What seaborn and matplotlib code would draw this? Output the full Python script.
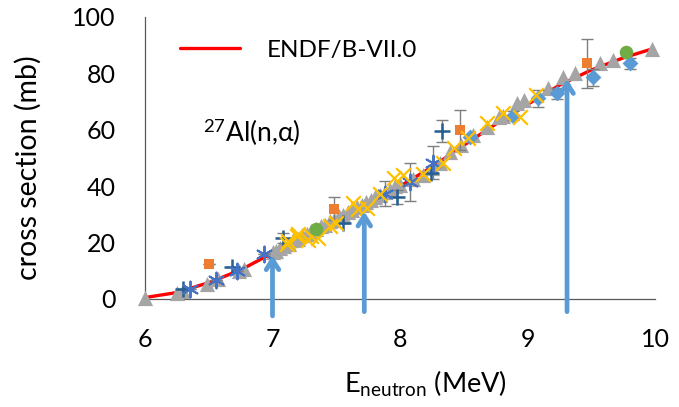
import matplotlib
matplotlib.use("Agg")
import matplotlib.pyplot as plt
import seaborn as sns
import pandas as pd

# ---------------- data ----------------
endf_E = [6.0, 6.25, 6.5, 6.75, 7.0, 7.25, 7.5, 7.75, 8.0, 8.25, 8.5, 8.75, 9.0, 9.25, 9.5, 9.75, 10.0]
endf_s = [0.5, 2.3, 5.8, 10.3, 16.3, 22.6, 28.4, 34.2, 40.0, 46.8, 54.5, 62.0, 69.0, 75.8, 81.2, 85.5, 89.0]

tri_E = [6.0, 6.25, 6.3, 6.49, 6.57, 6.74, 6.78,
         7.0, 7.03, 7.06, 7.09, 7.13, 7.16, 7.2, 7.23, 7.27, 7.3, 7.34, 7.38, 7.41, 7.45,
         7.48, 7.52, 7.55, 7.59, 7.62, 7.66, 7.7, 7.73, 7.77, 7.8, 7.84, 7.88, 7.92, 7.96,
         8.0, 8.1, 8.18, 8.25, 8.31, 8.39, 8.48, 8.57, 8.68, 8.78, 8.81, 8.92, 8.97,
         9.16, 9.28, 9.37, 9.57, 9.67, 9.98]
tri_s = [0.4, 2.1, 3.0, 5.3, 7.1, 10.0, 10.7,
         16.5, 17.0, 18.2, 18.8, 19.5, 21.0, 21.3, 22.6, 23.0, 24.2, 24.8, 26.0, 26.4, 27.6,
         28.0, 29.4, 29.8, 31.0, 31.5, 32.8, 33.2, 34.5, 35.0, 36.2, 36.8, 38.0, 38.5, 40.0,
         40.5, 42.5, 43.8, 46.5, 48.4, 52.0, 54.5, 58.0, 61.0, 64.4, 65.0, 69.4, 70.5,
         75.0, 78.6, 80.0, 83.6, 84.7, 88.6]

dia_E = [8.55, 8.89, 9.08, 9.23, 9.51, 9.80]
dia_s = [57.3, 65.0, 71.2, 73.0, 78.6, 83.6]
dia_err = [0.0, 1.5, 3.0, 2.0, 3.0, 2.0]

sq_E = [6.50, 7.48, 8.47, 9.47]
sq_s = [12.5, 32.0, 60.0, 83.6]
sq_err = [0.0, 4.0, 7.0, 8.7]

circ_E = [7.34, 9.77]
circ_s = [24.9, 87.7]

plus_E = [6.30, 6.68, 7.08, 7.55, 7.98, 8.24, 8.33]
plus_s = [3.6, 11.5, 21.6, 27.0, 36.2, 44.8, 59.5]
plus_err = [0.0, 0.0, 1.8, 0.0, 2.5, 0.0, 4.0]

ast_E = [6.35, 6.56, 6.72, 6.93, 7.88, 8.08, 8.26]
ast_s = [3.6, 6.8, 10.0, 16.0, 37.4, 41.5, 48.4]
ast_err = [0.0, 0.0, 0.0, 0.0, 4.5, 6.7, 6.0]

x_E = [7.11, 7.12, 7.19, 7.2, 7.28, 7.3, 7.36, 7.45, 7.5, 7.63, 7.67, 7.74, 7.84,
       7.95, 8.02, 8.18, 8.34, 8.42, 8.53, 8.68, 8.81, 8.94, 9.07]
x_s = [19.6, 20.6, 22.4, 23.1, 20.8, 22.5, 21.5, 26.0, 27.0, 34.2, 32.0, 32.4, 37.4,
       43.0, 43.8, 44.5, 48.4, 53.7, 57.0, 62.3, 65.8, 64.4, 72.2]

arrow_E = [7.0, 7.72, 9.31]
arrow_top = [15.5, 31.0, 78.0]
arrow_bottom = [-6.0, -4.5, -4.5]

x_ticks = [6, 7, 8, 9, 10]
y_ticks = [0, 20, 40, 60, 80, 100]

# ---------------- style ----------------
sns.set_theme(style="white")
plt.rcParams['font.family'] = ['Lato', 'DejaVu Sans']
plt.rcParams['mathtext.fontset'] = 'custom'
plt.rcParams['mathtext.rm'] = 'Lato'
plt.rcParams['mathtext.it'] = 'Lato:italic'

BLUE = '#4472C4'
ORANGE = '#ED7D31'
GRAY = '#A5A5A5'
GOLD = '#FFC000'
LBLUE = '#5B9BD5'
GREEN = '#70AD47'
DBLUE = '#255E91'
ERR = '#7F7F7F'

fig = plt.figure(figsize=(6.79, 4.07), dpi=100)
ax = fig.add_axes([145/679, 1-299/407, 510/679, 282/407])

endf = pd.DataFrame({'E': endf_E, 's': endf_s})
sns.lineplot(data=endf, x='E', y='s', color='#FF0000', lw=2.4, ax=ax,
             label='ENDF/B-VII.0', zorder=2)

sns.scatterplot(x=tri_E, y=tri_s, marker='^', s=120, color=GRAY, edgecolor=GRAY,
                linewidth=0, ax=ax, zorder=3, legend=False, clip_on=False)

for E, s, err, c in [(sq_E, sq_s, sq_err, ORANGE), (dia_E, dia_s, dia_err, LBLUE),
                     (plus_E, plus_s, plus_err, DBLUE), (ast_E, ast_s, ast_err, BLUE)]:
    ax.errorbar(E, s, yerr=err, fmt='none', ecolor=ERR, elinewidth=1.0,
                capsize=4, capthick=1.0, zorder=3.5)

sns.scatterplot(x=dia_E, y=dia_s, marker='D', s=65, color=LBLUE, edgecolor=LBLUE,
                linewidth=0, ax=ax, zorder=4, legend=False)
sns.scatterplot(x=sq_E, y=sq_s, marker='s', s=42, color=ORANGE, edgecolor=ORANGE,
                linewidth=0, ax=ax, zorder=4, legend=False)
sns.scatterplot(x=plus_E, y=plus_s, marker='+', s=120, color=DBLUE,
                linewidth=1.8, ax=ax, zorder=4, legend=False)
sns.scatterplot(x=ast_E, y=ast_s, marker=(6, 2, 0), s=130, color=BLUE, edgecolor=BLUE,
                linewidth=1.4, ax=ax, zorder=4, legend=False)
sns.scatterplot(x=x_E, y=x_s, marker='x', s=110, color=GOLD,
                linewidth=1.6, ax=ax, zorder=4.5, legend=False)
sns.scatterplot(x=circ_E, y=circ_s, marker='o', s=95, color=GREEN, edgecolor=GREEN,
                linewidth=0, ax=ax, zorder=5, legend=False)

for E, top, bot in zip(arrow_E, arrow_top, arrow_bottom):
    ax.annotate('', xy=(E, top), xytext=(E, bot), xycoords='data',
                annotation_clip=False,
                arrowprops=dict(arrowstyle='->,head_length=0.6,head_width=0.38',
                                color=LBLUE, lw=3.4, shrinkA=0, shrinkB=0),
                zorder=6)

ax.set_xlim(6, 10)
ax.set_ylim(0, 100)
ax.set_xticks(x_ticks)
ax.set_yticks(y_ticks)
ax.set_xticklabels([str(t) for t in x_ticks])
ax.set_yticklabels([str(t) for t in y_ticks])
ax.tick_params(axis='both', length=0, labelsize=18, colors='black')
ax.tick_params(axis='x', pad=21)
ax.tick_params(axis='y', pad=21)

for side in ['top', 'right']:
    ax.spines[side].set_visible(False)
for side in ['left', 'bottom']:
    ax.spines[side].set_color('#595959')
    ax.spines[side].set_linewidth(0.9)
ax.grid(False)

ax.set_ylabel('cross section (mb)', fontsize=20.5, color='black')
ax.yaxis.set_label_coords(-0.229, 0.465)
ax.yaxis.label.set_va('center')
ax.set_xlabel(r'E$_{\mathrm{neutron}}$ (MeV)', fontsize=19.5, color='black')
ax.xaxis.set_label_coords(0.549, -0.30)
ax.xaxis.label.set_va('center')

ax.text(0.114, 0.592, r'$^{\mathrm{27}}$Al(n,α)', transform=ax.transAxes,
        fontsize=19, va='center', ha='left', color='black')

leg = ax.legend(loc='center left', bbox_to_anchor=(0.068, 0.883), frameon=False,
                fontsize=17.5, handlelength=2.5, handletextpad=1.1,
                borderpad=0, borderaxespad=0)
for t in leg.get_texts():
    t.set_color('black')

fig.savefig('out.png', dpi=100)
